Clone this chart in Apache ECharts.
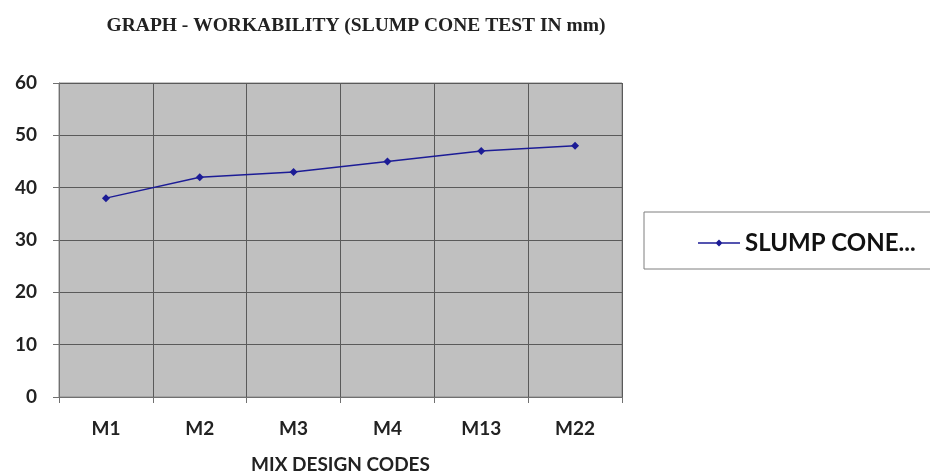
<!DOCTYPE html>
<html>
<head>
<meta charset="utf-8">
<script src="https://cdn.jsdelivr.net/npm/echarts@6/dist/echarts.min.js"></script>
<style>html,body{margin:0;padding:0;background:#fff;}#c{width:930px;height:476px;}</style>
</head>
<body>
<div id="c"></div>
<script>
const categories = ['M1', 'M2', 'M3', 'M4', 'M13', 'M22'];
const slumpValues = [38, 42, 43, 45, 47, 48];
const seriesName = 'SLUMP CONE...';
const yTicks = { min: 0, max: 60, interval: 10 };

const chart = echarts.init(document.getElementById('c'));
const labelFont = 'Lato, "Open Sans", sans-serif';
const lineColor = '#1c1c96';
chart.setOption({
  animation: false,
  backgroundColor: '#ffffff',
  title: {
    text: 'GRAPH - WORKABILITY (SLUMP CONE TEST IN mm)',
    left: 351, top: 11, textAlign: 'center',
    textStyle: { fontFamily: '"Liberation Serif", serif', fontWeight: 'bold', fontSize: 19.5, color: '#222' }
  },
  grid: { left: 59, right: 308, top: 83, bottom: 79, containLabel: false, outerBoundsMode: 'none', show: true, backgroundColor: '#c0c0c0', borderColor: '#8a8a8a', borderWidth: 1 },
  legend: {
    show: true, left: 693, top: 226, itemWidth: 42, itemHeight: 10, itemGap: 4,
    data: [{ name: seriesName, icon: 'path://M0,4.3 L42,4.3 L42,5.7 L0,5.7 Z M21,1.5 L24.5,5 L21,8.5 L17.5,5 Z', itemStyle: { color: lineColor } }],
    textStyle: { fontFamily: labelFont, fontWeight: 'bold', fontSize: 24, color: '#111' }
  },
  graphic: [
    { type: 'rect', shape: { x: 644, y: 212, width: 290, height: 57 }, style: { fill: 'none', stroke: '#7f7f7f', lineWidth: 1 } }
  ],
  xAxis: {
    type: 'category', data: categories, boundaryGap: true,
    name: 'MIX DESIGN CODES', nameLocation: 'middle', nameGap: 58,
    nameTextStyle: { fontFamily: labelFont, fontWeight: 'bold', fontSize: 19, color: '#222' },
    axisLine: { show: true, lineStyle: { color: '#707070' } },
    axisTick: { show: true, length: 6, lineStyle: { color: '#707070' } },
    axisLabel: { margin: 22, fontFamily: labelFont, fontWeight: 'bold', fontSize: 19, color: '#222' },
    splitLine: { show: true, lineStyle: { color: '#5a5a5a', width: 1 } }
  },
  yAxis: {
    type: 'value', min: yTicks.min, max: yTicks.max, interval: yTicks.interval,
    axisLine: { show: true, lineStyle: { color: '#707070' } },
    axisTick: { show: true, length: 6, lineStyle: { color: '#707070' } },
    axisLabel: { margin: 22, fontFamily: labelFont, fontWeight: 'bold', fontSize: 19, color: '#222' },
    splitLine: { show: true, lineStyle: { color: '#5a5a5a', width: 1 } }
  },
  series: [{
    name: seriesName, type: 'line', data: slumpValues,
    symbol: 'diamond', symbolSize: 8,
    lineStyle: { color: lineColor, width: 1.5 },
    itemStyle: { color: lineColor }
  }]
});
</script>
</body>
</html>
